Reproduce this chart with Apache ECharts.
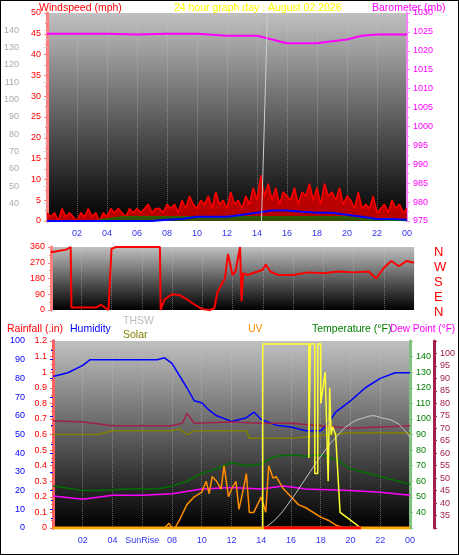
<!DOCTYPE html>
<html><head><meta charset="utf-8">
<script src="https://cdn.jsdelivr.net/npm/echarts@6/dist/echarts.min.js"></script>
<style>html,body{margin:0;padding:0;background:#fff}#c{width:459px;height:555px;box-sizing:border-box;border:1px solid #000}</style>
</head><body><div id="c"></div>
<script>
// ---- data ----
const gustHours = Array.from({length:97},(_, i)=>i*0.25);
const gustMph = [2,1,2,0,3,1,2,1,0,2,1,3,1,2,0,2,1,
 3,2,3,2,1,3,2,3,2,3,4,2,3,3,2,4,
 3,4,2,5,3,6,4,3,5,4,6,3,7,4,5,3,
 7,4,5,3,6,4,8,5,11,6,9,5,8,4,7,6,
 5,8,4,7,6,9,5,8,4,9,6,7,5,8,4,6,
 5,3,7,3,4,3,6,2,3,4,2,5,3,4,2,3];
const hourly = Array.from({length:25},(_, i)=>i);
const avgWind = [0,0,0,0,0,0,0,0,0.3,0.5,1,1,1,1.5,2,2.5,2.5,2.2,2,2,1.5,1,0.5,0.5,0.3];
const lowWind = [0,0,0,0,0.5,1,1,1,1,1,1,1,1,1,1,1,1,1,1,1,1,0.5,0.3,0.2,0];
const baroHours = [0,2,4,6,8,10,12,14,15,16,17,18,19,20,21,22,24];
const baroMb = [1024.5,1024.5,1024.5,1024.3,1024.5,1024.5,1024,1024,1023,1022,1022,1022,1022.5,1023,1024,1024.3,1024.3];
const greyHours = [14.3,14.7];
const greyVals = [30,150];
const dirHours = [0,1,1.3,1.35,3,3.3,3.8,4,4.3,7.2,7.25,7.5,8,8.5,9,9.5,10,10.5,10.8,11,11.3,11.5,11.7,12,12.2,12.5,12.6,12.7,13,14,14.2,14.5,15,16,17,18,19,20,21,21.5,22,22.5,23,23.5,24];
const dirDeg = [330,345,360,15,15,30,0,350,360,360,0,60,90,85,60,30,5,0,10,100,150,180,320,200,220,360,50,210,200,230,260,220,200,200,215,210,220,215,220,180,240,280,250,280,270];
const humHours = [0,1,2,2.5,4,6,7,7.5,8,9,9.5,10,10.5,11,12,13,13.5,14,15,16,17,18,18.5,19,20,21,22,23,24];
const humPct = [81,83,87,90,90,90,90,91,88,75,68,67,63,60,57,59,62,58,55,54,52,52,56,62,68,75,80,83,83];
const solarHours = [0,3,4,8,8.5,9,9.5,13,13.2,16,20,24];
const solarVal = [50,50,52,52,53,50,52,52,48,48,51,51];
const dewHours = [0,2,4,8,8.7,9,9.5,12,14,16,18,20,22,24];
const dewMaroon = [73,72.5,71,71,72,76,72,72.5,72,72,71,70,70.5,71];
const tempHours = [0,2,3,5,7,8,9,10,11,12,13,14,14.5,15,16,17,18,19,20,22,24];
const tempF = [57,54,54,55,55,57,60,65,68,72,70,71,74,76,77,76,77,74,68,63,58];
const magHours = [0,2,4,6,8,10,12,14,15.5,17,20,22,24];
const magF = [50.6,48.5,51,51,52,55,56,55,57,55,54,53,51];
const uvHours = [7.5,7.8,8,8.2,8.5,9,9.5,10,10.3,10.5,10.7,11,11.3,11.5,11.8,12,12.3,12.5,12.8,13,13.2,13.5,14,14.3,14.5,14.8,15,15.5,16,16.5,17,18,18.5,19,19.5];
const uvVal = [0,0.03,0,0,0.05,0.15,0.2,0.23,0.3,0.22,0.33,0.3,0.25,0.4,0.2,0.25,0.3,0.12,0.25,0.35,0.1,0.1,0.2,0.1,0.4,0.32,0.33,0.25,0.2,0.15,0.13,0.07,0.05,0.02,0];
const yelHours = [0,14.1,14.1,17.2,17.2,17.3,17.3,17.6,17.6,17.8,17.8,18,18,18.3,18.5,18.6,18.7,18.8,19,19.3,20,20.7];
const yelVal = [0,0,1.18,1.18,0.45,0.45,1.18,1.18,0.35,0.35,1.18,1.18,0.8,1.0,0.3,0.9,0.6,0.65,0.6,0.1,0.05,0];
const thswHours = [14.2,15,16,17,18,19,20,21,21.5,22,23,23.7,24];
const thswVal = [0,0.06,0.18,0.32,0.46,0.58,0.67,0.71,0.72,0.71,0.68,0.62,0.58];
const hourLabels = ['','02','04','06','08','10','12','14','16','18','20','22','00'];
const bottomHourLabels = ['','02','04','SunRise','08','10','12','14','16','18','20','22','00'];
const compass = ['N','W','S','E','N'];

const pair=(xs,ys)=>xs.map((x,i)=>[x,ys[i]]);
const F='Liberation Sans, Arial, sans-serif';
const bg={type:'linear',x:0,y:0,x2:0,y2:1,colorStops:[{offset:0,color:'#c0c0c0'},{offset:0.55,color:'#555'},{offset:1,color:'#000'}]};
const gridSplit={show:true,lineStyle:{color:'rgba(200,200,200,0.45)',type:'dotted'}};
function xa(gi,labels,show){return {type:'value',gridIndex:gi,min:0,max:24,interval:2,
 axisLine:{show:false},axisTick:{show:false},splitLine:gridSplit,
 axisLabel:{show:show,color:'#3333ee',fontSize:9,fontFamily:F,formatter:v=>labels[v/2]}};}
function ya(gi,o){return Object.assign({type:'value',gridIndex:gi,splitLine:{show:false},
 axisTick:{show:true,length:3,lineStyle:{color:o.c}},minorTick:{show:true,length:2,splitNumber:2,lineStyle:{color:o.c}},
 axisLine:{show:true,lineStyle:{color:o.c,width:o.w||3}},
 axisLabel:{color:o.lc||o.c,fontSize:9,fontFamily:F,margin:o.m||6,
   formatter:v=>(o.lo!==undefined&&(v<o.lo||v>o.hi))?'':String(Math.round(v*10)/10)}},o.x);}

const chart=echarts.init(document.getElementById('c'));
const T=(text,left,top,color,fs)=>({text,left,top,textStyle:{color,fontSize:fs||10.5,fontWeight:'normal',fontFamily:F}});
chart.setOption({
 animation:false,
 title:[T('Windspeed (mph)',33,-3,'#ff0000'),T('24 hour graph day : August 02 2026',168,-3,'#ffff00'),T('Barometer (mb)',366,-3,'#ff00ff'),
  T('Rainfall (.in)',1,318,'#ff0000'),T('Humidity',64,318,'#0000ff'),T('THSW',117,310,'#bbbbbb'),T('Solar',117,324,'#808000'),
  T('UV',242,318,'#ff8c00'),T('Temperature (°F)',306,318,'#008000'),T('Dew Point (°F)',384,318,'#ff00ff',10)].concat(
  compass.map((c,i)=>({text:c,left:428,top:240+i*15,textStyle:{color:'#ff0000',fontSize:13,fontWeight:'normal',fontFamily:F}}))),
 grid:[{left:45,right:51,top:12,height:208,show:true,backgroundColor:bg,borderWidth:0},
  {left:50,right:44,top:246,height:63,show:true,backgroundColor:bg,borderWidth:0},
  {left:52,right:48,top:340,height:187,show:true,backgroundColor:bg,borderWidth:0}],
 xAxis:[xa(0,hourLabels,true),xa(1,hourLabels,false),xa(2,bottomHourLabels,true)],
 yAxis:[
  ya(0,{c:'#cccccc',lc:'#aaaaaa',lo:40,hi:140,x:{min:30,max:150,interval:10,offset:22,position:'left'}}),
  ya(0,{c:'#ff8080',lc:'#ff0000',x:{min:0,max:50,interval:5,position:'left'}}),
  ya(0,{c:'#ff80ff',lc:'#ff00ff',w:2,x:{min:975,max:1030,interval:5,position:'right'}}),
  ya(1,{c:'#ff8080',lc:'#ff0000',x:{min:0,max:360,interval:90,position:'left'}}),
  ya(2,{c:'#0000ff',x:{min:0,max:100,interval:10,offset:22,position:'left'}}),
  ya(2,{c:'#ff6060',lc:'#ff0000',x:{min:0,max:1.2,interval:0.1,position:'left'}}),
  ya(2,{c:'#80c080',lc:'#008000',lo:40,hi:140,x:{min:30,max:150,interval:10,position:'right'}}),
  ya(2,{c:'#a0204a',lc:'#a0204a',lo:35,hi:100,x:{min:30,max:105,interval:5,offset:24,position:'right'}})
 ],
 series:[
  {type:'line',xAxisIndex:0,yAxisIndex:1,data:pair(gustHours,gustMph),symbol:'none',lineStyle:{color:'#ff0000',width:1.5},areaStyle:{color:'#cc0000',opacity:0.9}},
  {type:'line',xAxisIndex:0,yAxisIndex:1,data:pair(hourly,lowWind),symbol:'none',lineStyle:{color:'#008000',width:1},areaStyle:{color:'#007000'}},
  {type:'line',xAxisIndex:0,yAxisIndex:1,data:pair(hourly,avgWind),symbol:'none',lineStyle:{color:'#0000ff',width:2}},
  {type:'line',xAxisIndex:0,yAxisIndex:2,data:pair(baroHours,baroMb),symbol:'none',lineStyle:{color:'#ff00ff',width:2}},
  {type:'line',xAxisIndex:0,yAxisIndex:0,data:pair(greyHours,greyVals),symbol:'none',lineStyle:{color:'#cccccc',width:1}},
  {type:'line',xAxisIndex:1,yAxisIndex:3,data:pair(dirHours,dirDeg),symbol:'none',lineStyle:{color:'#ff0000',width:2}},
  {type:'line',xAxisIndex:2,yAxisIndex:4,data:pair(humHours,humPct),symbol:'none',lineStyle:{color:'#0000ff',width:1.5}},
  {type:'line',xAxisIndex:2,yAxisIndex:4,data:pair(solarHours,solarVal),symbol:'none',lineStyle:{color:'#808000',width:1.5}},
  {type:'line',xAxisIndex:2,yAxisIndex:7,data:pair(dewHours,dewMaroon),symbol:'none',lineStyle:{color:'#a0204a',width:1.5}},
  {type:'line',xAxisIndex:2,yAxisIndex:6,data:pair(tempHours,tempF),symbol:'none',lineStyle:{color:'#007000',width:1.5}},
  {type:'line',xAxisIndex:2,yAxisIndex:6,data:pair(magHours,magF),symbol:'none',lineStyle:{color:'#ff00ff',width:1.5}},
  {type:'line',xAxisIndex:2,yAxisIndex:5,data:pair(uvHours,uvVal),symbol:'none',lineStyle:{color:'#ff8c00',width:1.5}},
  {type:'line',xAxisIndex:2,yAxisIndex:5,data:pair(thswHours,thswVal),symbol:'none',smooth:true,lineStyle:{color:'#cccccc',width:1}},
  {type:'line',xAxisIndex:2,yAxisIndex:5,data:pair(yelHours,yelVal),symbol:'none',lineStyle:{color:'#ffff33',width:1.5}},
  {type:'line',xAxisIndex:2,yAxisIndex:5,data:[[0,0],[24,0]],symbol:'none',lineStyle:{color:'#ffa500',width:3}},
  {type:'line',xAxisIndex:2,yAxisIndex:5,data:[[14.2,0],[20.7,0]],symbol:'none',lineStyle:{color:'#ff0000',width:3}}
 ]
});
</script></body></html>
